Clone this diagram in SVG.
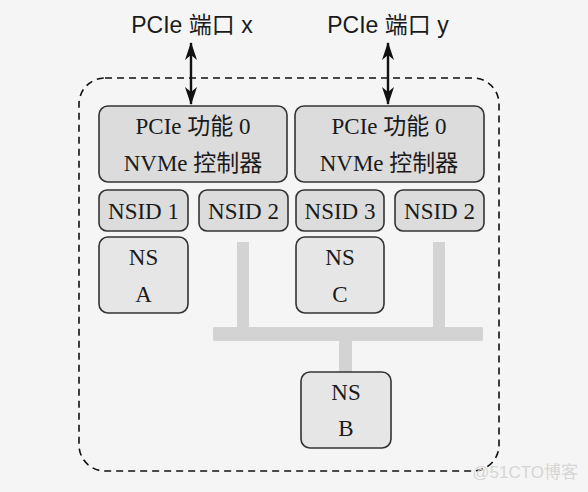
<svg xmlns="http://www.w3.org/2000/svg" width="588" height="492" viewBox="0 0 588 492">
<defs>
<marker id="ah" viewBox="0 0 18 12" refX="17" refY="6" markerWidth="18" markerHeight="12" markerUnits="userSpaceOnUse" orient="auto-start-reverse">
<path d="M0,0 L18,6 L0,12 L5,6 Z" fill="#111"/>
</marker>
<style>
.box{fill:#dcdcdc;stroke:#333;stroke-width:1.6}
.ns{fill:#e6e6e6;stroke:#333;stroke-width:1.6}
.t{font-family:"Liberation Serif","Noto Sans CJK SC",serif;font-size:23px;fill:#1a1a1a;text-anchor:middle}
.lbl{font-family:"Liberation Sans","Noto Sans CJK SC",sans-serif;font-size:23px;fill:#1a1a1a;text-anchor:middle}
.bus{fill:#d3d3d3}
</style>
</defs>
<rect width="588" height="492" fill="#f5f5f5"/>
<rect x="79" y="78" width="420" height="393" rx="26" fill="none" stroke="#111" stroke-width="1.6" stroke-dasharray="7,5"/>
<g id="labels">
<text class="lbl" x="192" y="33">PCIe 端口 x</text>
<text class="lbl" x="388" y="33">PCIe 端口 y</text>
</g>
<g id="connectors">
<line x1="191" y1="43" x2="191" y2="104" stroke="#111" stroke-width="2.4" marker-start="url(#ah)" marker-end="url(#ah)"/>
<line x1="388" y1="43" x2="388" y2="104" stroke="#111" stroke-width="2.4" marker-start="url(#ah)" marker-end="url(#ah)"/>
<rect class="bus" x="237" y="242" width="12" height="90"/>
<rect class="bus" x="433" y="242" width="12" height="90"/>
<rect class="bus" x="213" y="327" width="270" height="14" rx="2"/>
<rect class="bus" x="339" y="338" width="13" height="34"/>
</g>
<g id="ctrl1"><rect class="box" x="99" y="106" width="188" height="76" rx="9"/>
<text class="t" x="193" y="134">PCIe 功能 0</text><text class="t" x="193" y="171">NVMe 控制器</text></g>
<g id="ctrl2"><rect class="box" x="295" y="106" width="189" height="76" rx="9"/>
<text class="t" x="389" y="134">PCIe 功能 0</text><text class="t" x="389" y="171">NVMe 控制器</text></g>
<g id="nsid1"><rect class="box" x="99" y="190" width="89" height="41" rx="8"/><text class="t" x="143.5" y="219">NSID 1</text></g>
<g id="nsid2a"><rect class="box" x="199" y="190" width="89" height="41" rx="8"/><text class="t" x="243.5" y="219">NSID 2</text></g>
<g id="nsid3"><rect class="box" x="296" y="190" width="88" height="41" rx="8"/><text class="t" x="340" y="219">NSID 3</text></g>
<g id="nsid2b"><rect class="box" x="395" y="190" width="89" height="41" rx="8"/><text class="t" x="439.5" y="219">NSID 2</text></g>
<g id="nsA"><rect class="ns" x="99" y="237" width="89" height="76" rx="9"/><text class="t" x="143.5" y="265">NS</text><text class="t" x="143.5" y="302">A</text></g>
<g id="nsC"><rect class="ns" x="296" y="237" width="88" height="76" rx="9"/><text class="t" x="340" y="265">NS</text><text class="t" x="340" y="302">C</text></g>
<g id="nsB"><rect class="ns" x="301" y="372" width="90" height="76" rx="9"/><text class="t" x="346" y="400">NS</text><text class="t" x="346" y="436">B</text></g>
<text x="578" y="478" font-family="'Liberation Sans','Noto Sans CJK SC',sans-serif" font-size="17" fill="#d6d6d6" text-anchor="end">@51CTO博客</text>
</svg>
